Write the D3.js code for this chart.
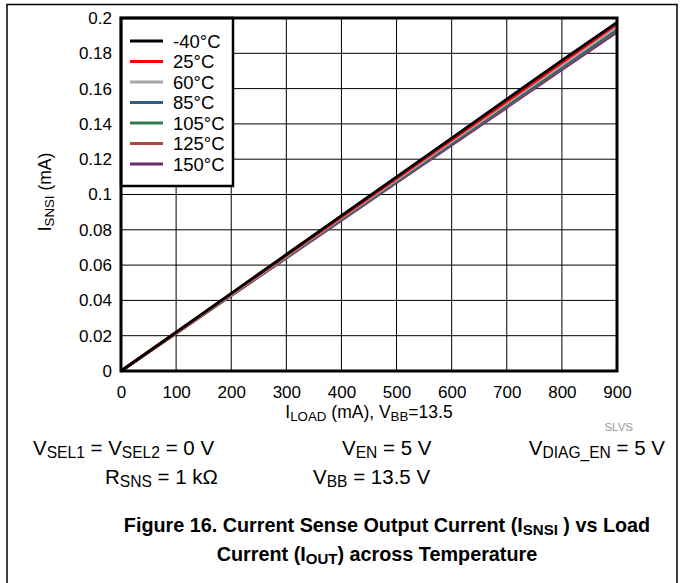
<!DOCTYPE html>
<html><head><meta charset="utf-8">
<script src="https://cdn.jsdelivr.net/npm/d3@7"></script>
<style>body{margin:0;background:#fff}svg{display:block;font-family:"Liberation Sans",Arial,sans-serif}</style>
</head><body>
<script>
const xValues = [0, 100, 200, 300, 400, 500, 600, 700, 800, 900];
const seriesNames = ["-40°C", "25°C", "60°C", "85°C", "105°C", "125°C", "150°C"];
const seriesColors = ["#000000", "#ff0000", "#a6a6a6", "#2f5f80", "#2e7b50", "#b04545", "#6b2c6e"];
const sM40 = [0, 0.0220, 0.0440, 0.0660, 0.0880, 0.1100, 0.1320, 0.1540, 0.1760, 0.1975];
const s25  = [0, 0.0218, 0.0437, 0.0655, 0.0873, 0.1092, 0.1310, 0.1528, 0.1747, 0.1965];
const s60  = [0, 0.0217, 0.0433, 0.0650, 0.0867, 0.1083, 0.1300, 0.1517, 0.1733, 0.1950];
const s85  = [0, 0.0216, 0.0431, 0.0647, 0.0862, 0.1078, 0.1293, 0.1509, 0.1724, 0.1940];
const s105 = [0, 0.0215, 0.0430, 0.0645, 0.0860, 0.1075, 0.1290, 0.1505, 0.1720, 0.1935];
const s125 = [0, 0.0214, 0.0429, 0.0643, 0.0858, 0.1072, 0.1287, 0.1501, 0.1716, 0.1930];
const s150 = [0, 0.0213, 0.0427, 0.0640, 0.0853, 0.1067, 0.1280, 0.1493, 0.1707, 0.1920];
const seriesValues = [sM40, s25, s60, s85, s105, s125, s150];
const xTicks = [0, 100, 200, 300, 400, 500, 600, 700, 800, 900];
const yTicks = [0, 0.02, 0.04, 0.06, 0.08, 0.1, 0.12, 0.14, 0.16, 0.18, 0.2];

const W = 681, H = 583;
const svg = d3.select("body").append("svg").attr("width", W).attr("height", H);

// outer frame
svg.append("rect").attr("x", 7).attr("y", 4.5).attr("width", 670).attr("height", 620)
  .attr("fill", "none").attr("stroke", "#000").attr("stroke-width", 1.5);

const L = 121, R = 617, T = 18, B = 371;
const x = d3.scaleLinear().domain([0, 900]).range([L, R]);
const y = d3.scaleLinear().domain([0, 0.2]).range([B, T]);

// grid
const g = svg.append("g");
g.selectAll("line.vx").data(xTicks).enter().append("line")
  .attr("x1", d => x(d)).attr("x2", d => x(d)).attr("y1", T).attr("y2", B)
  .attr("stroke", "#000").attr("stroke-width", 1);
g.selectAll("line.hy").data(yTicks).enter().append("line")
  .attr("x1", L).attr("x2", R).attr("y1", d => y(d)).attr("y2", d => y(d))
  .attr("stroke", "#000").attr("stroke-width", 1);

// axes labels via d3 axes
const xAxis = d3.axisBottom(x).tickValues(xTicks).tickSize(0).tickPadding(15).tickFormat(d3.format("d"));
const xg = svg.append("g").attr("transform", `translate(0,${B})`).call(xAxis);
xg.select(".domain").remove();
xg.selectAll("text").attr("font-size", 17).attr("fill", "#000").attr("font-family", "Liberation Sans, Arial, sans-serif");

const yAxis = d3.axisLeft(y).tickValues(yTicks).tickSize(0).tickPadding(9).tickFormat(d => d === 0 ? "0" : String(+d.toFixed(2)));
const yg = svg.append("g").attr("transform", `translate(${L},0)`).call(yAxis);
yg.select(".domain").remove();
yg.selectAll("text").attr("font-size", 17).attr("fill", "#000").attr("font-family", "Liberation Sans, Arial, sans-serif");

// lines
const line = d3.line().x((d, i) => x(xValues[i])).y(d => y(d));
const order = [6, 5, 4, 3, 2, 1, 0];
svg.append("g").selectAll("path").data(order).enter().append("path")
  .attr("d", i => line(seriesValues[i]))
  .attr("fill", "none").attr("stroke", i => seriesColors[i]).attr("stroke-width", 2.8);

// legend
const lg = svg.append("g");
lg.append("rect").attr("x", L).attr("y", T).attr("width", 112).attr("height", 168)
  .attr("fill", "#fff").attr("stroke", "#000").attr("stroke-width", 2.5);
seriesNames.forEach((n, i) => {
  const yy = 41 + i * 20.5;
  lg.append("line").attr("x1", 130).attr("x2", 163).attr("y1", yy).attr("y2", yy)
    .attr("stroke", seriesColors[i]).attr("stroke-width", 2.8);
  lg.append("text").attr("x", 173).attr("y", yy + 6.5).attr("font-size", 18.5).text(n);
});

// plot border
svg.append("rect").attr("x", L).attr("y", T).attr("width", R - L).attr("height", B - T)
  .attr("fill", "none").attr("stroke", "#000").attr("stroke-width", 3);

// axis titles
function subText(sel, parts, size) {
  parts.forEach(p => {
    const ts = sel.append("tspan").text(p[0]);
    if (p[1]) ts.attr("font-size", size * 0.76).attr("baseline-shift", "-20%");
  });
}
const xt = svg.append("text").attr("x", 369).attr("y", 418).attr("text-anchor", "middle").attr("font-size", 17.5);
subText(xt, [["I"], ["LOAD", 1], [" (mA),  V"], ["BB", 1], ["=13.5"]], 17.5);

const yt = svg.append("text").attr("transform", "translate(51,192) rotate(-90)").attr("text-anchor", "middle").attr("font-size", 17.5);
subText(yt, [["I"], ["SNSI", 1], [" (mA)"]], 17.5);

svg.append("text").attr("x", 633).attr("y", 431).attr("text-anchor", "end").attr("font-size", 11.5).attr("fill", "#999").text("SLVS");

// conditions
const CS = 20.5;
const c1 = svg.append("text").attr("x", 33).attr("y", 455).attr("font-size", CS);
subText(c1, [["V"], ["SEL1", 1], [" = V"], ["SEL2", 1], [" = 0 V"]], CS);
const c2 = svg.append("text").attr("x", 342).attr("y", 455).attr("font-size", CS);
subText(c2, [["V"], ["EN", 1], [" = 5 V"]], CS);
const c3 = svg.append("text").attr("x", 665).attr("y", 455).attr("text-anchor", "end").attr("font-size", CS);
subText(c3, [["V"], ["DIAG_EN", 1], [" = 5 V"]], CS);
const c4 = svg.append("text").attr("x", 105).attr("y", 484).attr("font-size", CS);
subText(c4, [["R"], ["SNS", 1], [" = 1 kΩ"]], CS);
const c5 = svg.append("text").attr("x", 313).attr("y", 484).attr("font-size", CS);
subText(c5, [["V"], ["BB", 1], [" = 13.5 V"]], CS);

// figure title
const TS = 19.8;
const t1 = svg.append("text").attr("x", 387).attr("y", 532).attr("text-anchor", "middle").attr("font-size", TS).attr("font-weight", "bold");
subText(t1, [["Figure 16. Current Sense Output Current (I"], ["SNSI", 1], [" ) vs Load"]], TS);
const t2 = svg.append("text").attr("x", 377).attr("y", 561).attr("text-anchor", "middle").attr("font-size", TS).attr("font-weight", "bold");
subText(t2, [["Current (I"], ["OUT", 1], [") across Temperature"]], TS);
</script>
</body></html>
